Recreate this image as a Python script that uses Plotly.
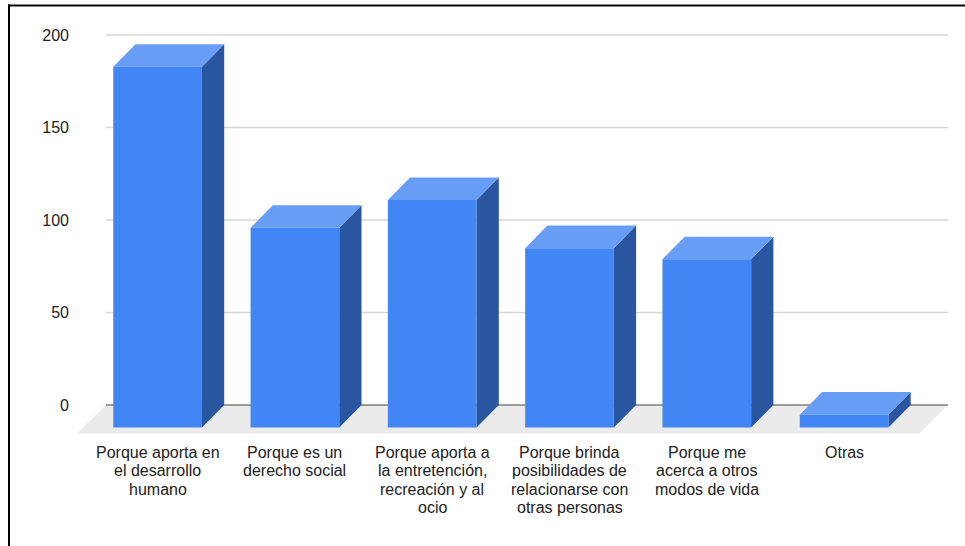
import plotly.graph_objects as go

# ---- data ----
categories = [
    "Porque aporta en\nel desarrollo\nhumano",
    "Porque es un\nderecho social",
    "Porque aporta a\nla entretención,\nrecreación y al\nocio",
    "Porque brinda\nposibilidades de\nrelacionarse con\notras personas",
    "Porque me\nacerca a otros\nmodos de vida",
    "Otras",
]
values = [195, 108, 123, 97, 91, 7]
y_ticks = [0, 50, 100, 150, 200]

# ---- 3D look (axis units) ----
BAR_W = 0.646        # front face width, in category units
DX, DY = 0.162, 12.2  # bar depth offset (x in categories, y in value units)
FDX, FDY = 0.21, 15.4 # floor depth offset
X0, X1 = -0.6235, 5.8077
Y0, Y1 = -24.32, 208.11
GRID_L = -0.376
GRID_R = 5.757

FRONT = "#4285f4"
TOP = "#689df5"
SIDE = "#2a56a0"
FLOOR = "#ebebeb"
FONT = "Arial, 'Liberation Sans', sans-serif"

# page geometry (px)
L, R, T, B = 72, 10, 20, 96
W, H = 965 - L - R, 546 - T - B
def px(xp): return (xp - L) / W
def py(yp): return (546 - B - yp) / H

fig = go.Figure()

# floor
fig.add_trace(go.Scatter(
    x=[GRID_L, GRID_R, GRID_R - FDX, GRID_L - FDX, GRID_L],
    y=[0, 0, -FDY, -FDY, 0],
    fill="toself", fillcolor=FLOOR, mode="lines", line=dict(width=0),
    hoverinfo="skip", showlegend=False))

# back-wall gridlines
gx, gy = [], []
for t in y_ticks[1:]:
    gx += [GRID_L, GRID_R, None]
    gy += [t, t, None]
fig.add_trace(go.Scatter(x=gx, y=gy, mode="lines",
                         line=dict(color="#d6d6d6", width=1.5),
                         hoverinfo="skip", showlegend=False))
# baseline
fig.add_trace(go.Scatter(x=[GRID_L, GRID_R], y=[0, 0], mode="lines",
                         line=dict(color="#444444", width=1.2),
                         hoverinfo="skip", showlegend=False))

# bar faces
fx, fy, tx, ty, sx, sy = [], [], [], [], [], []
for i, v in enumerate(values):
    l, r = i - BAR_W / 2, i + BAR_W / 2
    bot, top = -DY, v - DY
    fx += [l, r, r, l, l, None]
    fy += [bot, bot, top, top, bot, None]
    tx += [l, r, r + DX, l + DX, l, None]
    ty += [top, top, v, v, top, None]
    sx += [r, r + DX, r + DX, r, r, None]
    sy += [bot, 0, v, top, bot, None]

for xs, ys, col in ((sx, sy, SIDE), (tx, ty, TOP), (fx, fy, FRONT)):
    fig.add_trace(go.Scatter(x=xs, y=ys, fill="toself", fillcolor=col,
                             mode="lines", line=dict(width=0, color=col),
                             hoverinfo="skip", showlegend=False))

# category labels, one annotation per line
LINE_PX = [452.7, 471.0, 489.3, 507.6]
for i, cat in enumerate(categories):
    for k, line in enumerate(cat.split("\n")):
        fig.add_annotation(x=i, y=py(LINE_PX[k]), xref="x", yref="paper",
                           text=line, showarrow=False,
                           xanchor="center", yanchor="middle",
                           font=dict(family=FONT, size=16, color="#222222"))

# frame edges (top and left)
fig.add_shape(type="line", xref="paper", yref="paper",
              x0=px(8), x1=px(966), y0=py(5.5), y1=py(5.5),
              line=dict(color="#000000", width=2))
fig.add_shape(type="line", xref="paper", yref="paper",
              x0=px(9), x1=px(9), y0=py(4.5), y1=py(547),
              line=dict(color="#000000", width=2))

fig.update_layout(
    width=965, height=546,
    margin=dict(l=L, r=R, t=T, b=B),
    paper_bgcolor="white", plot_bgcolor="white",
    font=dict(family=FONT, size=16, color="#222222"),
    xaxis=dict(range=[X0, X1], showgrid=False, zeroline=False,
               showticklabels=False, ticks="", fixedrange=True),
    yaxis=dict(range=[Y0, Y1], showgrid=False, zeroline=False,
               tickvals=y_ticks, ticktext=[str(t) for t in y_ticks],
               ticks="", ticklabelstandoff=2,
               tickfont=dict(family=FONT, size=16, color="#222222"),
               fixedrange=True),
    showlegend=False,
)

fig.write_html("out.html")
